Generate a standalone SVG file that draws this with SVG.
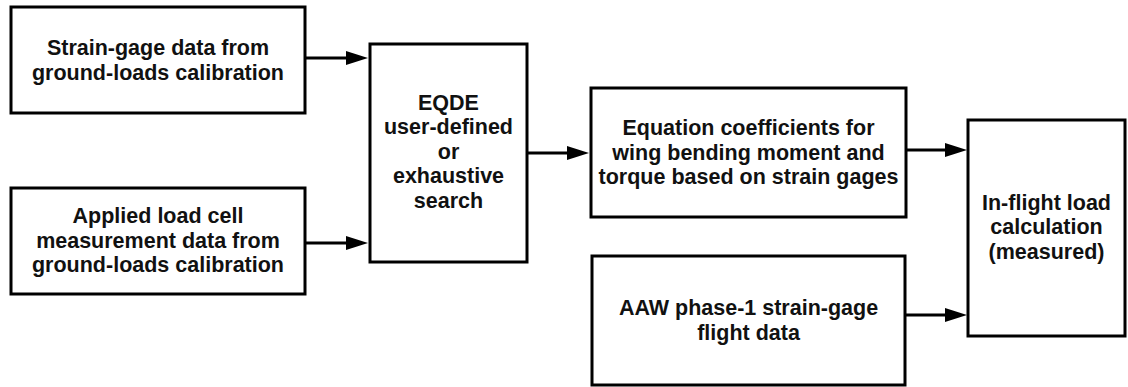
<svg xmlns="http://www.w3.org/2000/svg" width="1128" height="387" viewBox="0 0 1128 387">
<style>
.box{fill:#fff;stroke:#000;stroke-width:3}
.t{font-family:"Liberation Sans",Arial,sans-serif;font-weight:bold;font-size:21.5px;fill:#111;text-anchor:middle}
.c{stroke:#000;stroke-width:3;fill:none}
</style>
<defs>
<marker id="ah" markerUnits="userSpaceOnUse" markerWidth="22" markerHeight="14" refX="12" refY="7" orient="auto">
<path d="M0,0 L22,7 L0,14 z" fill="#000"/>
</marker>
</defs>
<rect width="1128" height="387" fill="#fff"/>
<g id="connectors">
<line class="c" x1="305" y1="58" x2="358" y2="58" marker-end="url(#ah)"/>
<line class="c" x1="305" y1="243" x2="358" y2="243" marker-end="url(#ah)"/>
<line class="c" x1="527" y1="153" x2="579" y2="153" marker-end="url(#ah)"/>
<line class="c" x1="906" y1="150" x2="957" y2="150" marker-end="url(#ah)"/>
<line class="c" x1="906" y1="315" x2="957" y2="315" marker-end="url(#ah)"/>
</g>
<g id="strain-gage-data">
<rect class="box" x="11" y="7" width="294" height="106"/>
<text class="t" x="158" y="55">Strain-gage data from</text>
<text class="t" x="158" y="79.5">ground-loads calibration</text>
</g>
<g id="applied-load-cell">
<rect class="box" x="11" y="188" width="294" height="106"/>
<text class="t" x="158" y="223">Applied load cell</text>
<text class="t" x="158" y="247.5">measurement data from</text>
<text class="t" x="158" y="272">ground-loads calibration</text>
</g>
<g id="eqde">
<rect class="box" x="370" y="44" width="157" height="218"/>
<text class="t" x="448.5" y="109.5">EQDE</text>
<text class="t" x="448.5" y="134">user-defined</text>
<text class="t" x="448.5" y="158.5">or</text>
<text class="t" x="448.5" y="183">exhaustive</text>
<text class="t" x="448.5" y="207.5">search</text>
</g>
<g id="equation-coefficients">
<rect class="box" x="591" y="88" width="315" height="129"/>
<text class="t" x="748.5" y="135">Equation coefficients for</text>
<text class="t" x="748.5" y="159.5">wing bending moment and</text>
<text class="t" x="748.5" y="184">torque based on strain gages</text>
</g>
<g id="aaw-flight-data">
<rect class="box" x="592" y="256" width="313" height="129"/>
<text class="t" x="748.5" y="315">AAW phase-1 strain-gage</text>
<text class="t" x="748.5" y="339.5">flight data</text>
</g>
<g id="in-flight-load">
<rect class="box" x="968" y="120" width="157" height="216"/>
<text class="t" x="1046.5" y="209.5">In-flight load</text>
<text class="t" x="1046.5" y="234">calculation</text>
<text class="t" x="1046.5" y="258.5">(measured)</text>
</g>
</svg>
